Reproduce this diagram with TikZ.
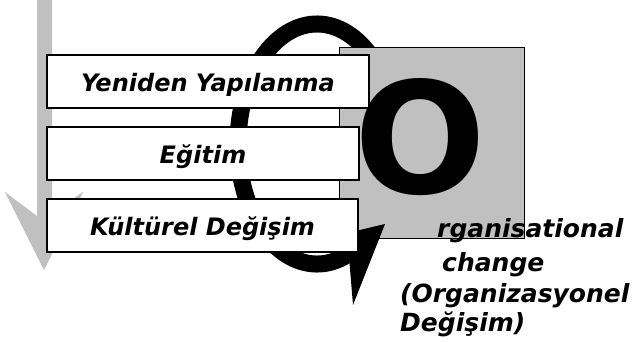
\documentclass[tikz,border=0pt]{standalone}
\usepackage{fontspec}
\setmainfont{DejaVu Sans}
\definecolor{silver}{HTML}{C0C0C0}
\tikzset{
  stepbox/.style={draw=black, line width=1.4pt, fill=white, inner sep=0pt,
    minimum height=53pt, text height=24pt, text depth=4pt,
    font=\fontsize{24}{28}\selectfont\bfseries\itshape},
  orgtext/.style={anchor=base west, inner sep=0pt,
    font=\fontsize{25}{30}\selectfont\bfseries\itshape}
}
\begin{document}
\begin{tikzpicture}[x=1pt,y=-1pt]
  \useasboundingbox (0,0) rectangle (639,341);
  % grey downward arrow
  \fill[silver] (37,0) -- (37,216) -- (5,192) -- (44,270) -- (83,192)
    -- (52,213) -- (52,0) -- cycle;
  % loop
  \draw[line width=17pt] (317,144) ++(62:79 and 120)
    arc[start angle=62, end angle=362, x radius=79, y radius=120];
  \draw[fill=silver, line width=1pt] (339,47) rectangle (524,238);
  \node[inner sep=0pt, font=\fontsize{155}{155}\selectfont\bfseries] (o) at (420,137) {O};
  \fill (385,224) -- (353,305) -- (347,233) -- cycle;
  % boxes
  \node[stepbox, minimum width=322pt] (yeniden) at (208,81.5) {Yeniden Yapılanma};
  \node[stepbox, minimum width=312pt] (egitim) at (203,153.5) {Eğitim};
  \node[stepbox, minimum width=311pt] (kultur) at (202.5,225.5) {Kültürel Değişim};
  % label
  \node[orgtext] (org1) at (437,237) {rganisational};
  \node[orgtext] (org2) at (442,271) {change};
  \node[orgtext] (org3) at (400,302) {(Organizasyonel};
  \node[orgtext] (org4) at (400,331) {Değişim)};
\end{tikzpicture}
\end{document}
